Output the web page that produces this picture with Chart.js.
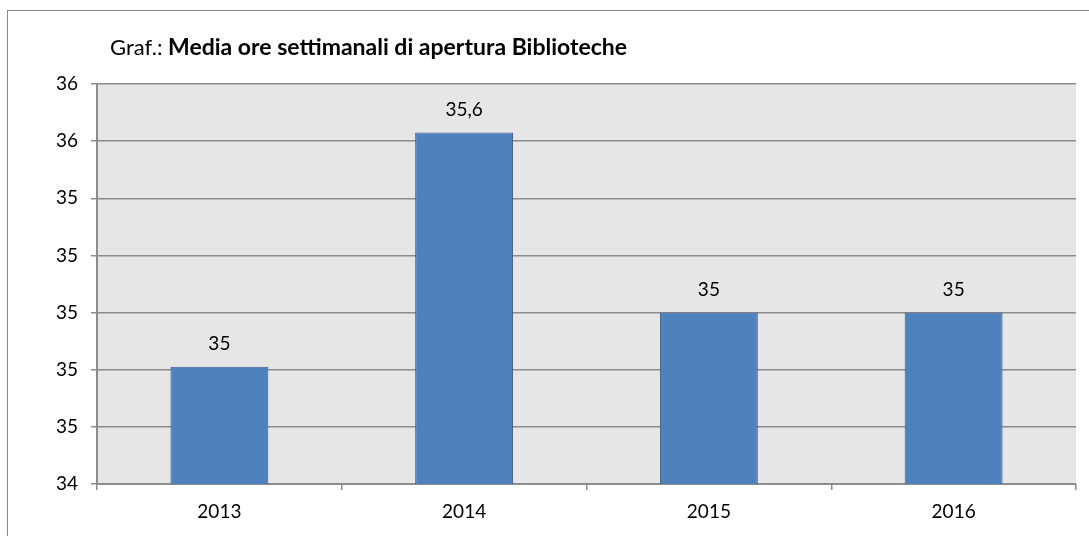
<!DOCTYPE html>
<html>
<head>
<meta charset="utf-8">
<script src="https://cdn.jsdelivr.net/npm/chart.js@4"></script>
<style>
  html, body { margin: 0; padding: 0; background: #fff; }
  #wrap { width: 1089px; height: 536px; position: relative; }
</style>
</head>
<body>
<div id="wrap"><canvas id="chart"></canvas></div>
<script>
// data
const years = ['2013', '2014', '2015', '2016'];
const hours = [34.81, 35.63, 35.0, 35.0];
const valueLabels = ['35', '35,6', '35', '35'];
const yTickLabels = ['34', '35', '35', '35', '35', '35', '36', '36'];

const FONT = 'Lato, "Open Sans", sans-serif';
const GRID = '#8c8c8c';

// frame, plot background and title
const backdrop = {
    id: 'backdrop',
    beforeDraw(chart) {
        const ctx = chart.ctx;
        const a = chart.chartArea;
        ctx.save();
        ctx.fillStyle = '#fff';
        ctx.fillRect(0, 0, chart.width, chart.height);
        ctx.strokeStyle = '#888';
        ctx.lineWidth = 1;
        ctx.strokeRect(7.5, 10.5, chart.width + 20, chart.height + 20);
        ctx.fillStyle = '#e6e6e6';
        ctx.fillRect(a.left, a.top, a.right - a.left, a.bottom - a.top);

        ctx.fillStyle = '#000';
        ctx.textBaseline = 'middle';
        ctx.textAlign = 'left';
        ctx.font = '22px ' + FONT;
        const pre = 'Graf.: ';
        ctx.fillText(pre, 110, 48);
        const w = ctx.measureText(pre).width;
        ctx.font = 'bold 23px ' + FONT;
        ctx.fillText('Media ore settimanali di apertura Biblioteche', 110 + w, 48);
        ctx.restore();
    },
    afterDatasetsDraw(chart) {
        const ctx = chart.ctx;
        const meta = chart.getDatasetMeta(0);
        ctx.save();
        ctx.fillStyle = '#000';
        ctx.font = '19px ' + FONT;
        ctx.textAlign = 'center';
        ctx.textBaseline = 'middle';
        meta.data.forEach((bar, i) => {
            ctx.fillText(valueLabels[i], bar.x, bar.y - 23);
        });
        ctx.restore();
    }
};

new Chart(document.getElementById('chart'), {
    type: 'bar',
    data: {
        labels: years,
        datasets: [{
            data: hours,
            backgroundColor: '#4f81bd',
            borderColor: '#385d8a',
            borderWidth: 1,
            categoryPercentage: 1,
            barPercentage: 0.4
        }]
    },
    options: {
        responsive: true,
        maintainAspectRatio: false,
        animation: false,
        layout: { padding: { top: 84, right: 13, left: 0, bottom: 0 } },
        plugins: {
            legend: { display: false },
            tooltip: { enabled: false }
        },
        scales: {
            x: {
                grid: { drawOnChartArea: false, drawTicks: true, tickLength: 6, color: GRID, lineWidth: 1.5 },
                border: { color: GRID, width: 2 },
                ticks: { color: '#000', font: { family: FONT, size: 19 }, padding: 10 },
                afterFit(scale) { scale.height = 52; }
            },
            y: {
                min: 34.4,
                max: 35.8,
                ticks: {
                    stepSize: 0.2,
                    color: '#000',
                    font: { family: FONT, size: 19 },
                    padding: 13,
                    callback: (v, i) => yTickLabels[i]
                },
                grid: { color: GRID, lineWidth: 1.5, tickLength: 6 },
                border: { color: GRID, width: 2 },
                afterFit(scale) { scale.width = 97; }
            }
        }
    },
    plugins: [backdrop]
});
</script>
</body>
</html>
